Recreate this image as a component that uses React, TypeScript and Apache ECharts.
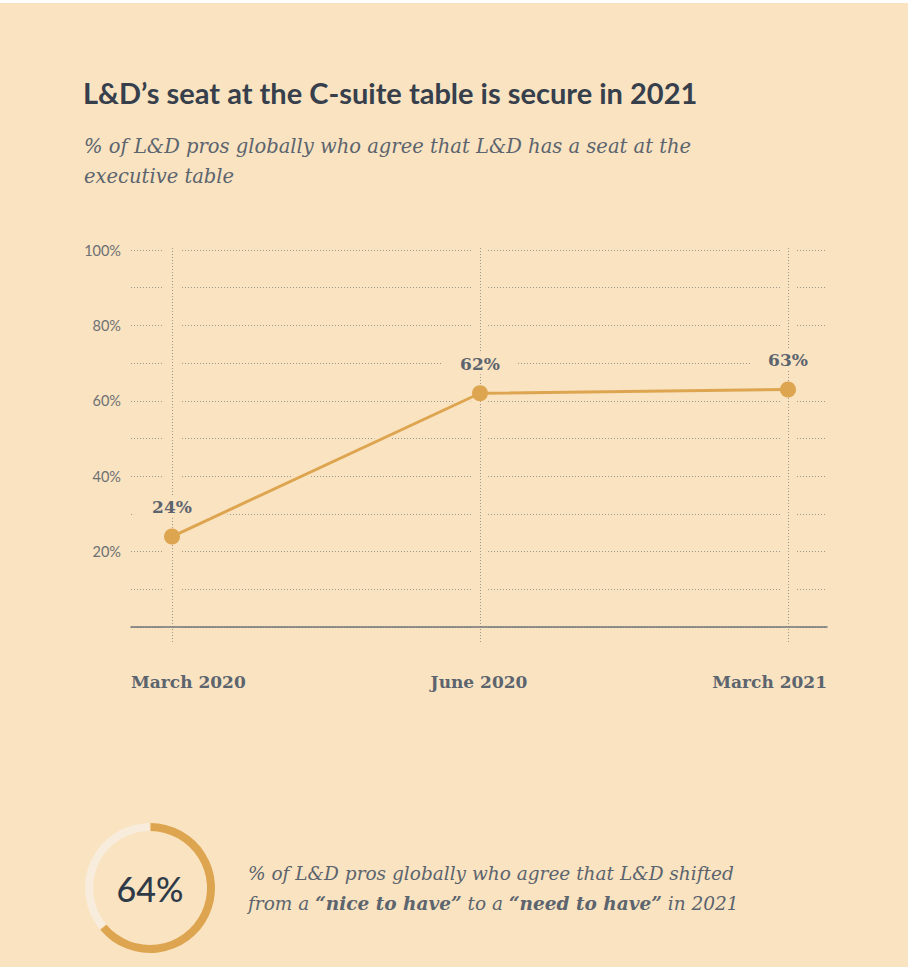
import React, { useEffect, useRef } from "react";
import * as echarts from "echarts";

const categories = ["March 2020", "June 2020", "March 2021"];
const seatValues = [24, 62, 63];
const yTicks = [0, 10, 20, 30, 40, 50, 60, 70, 80, 90, 100];
const shiftedShare = [64, 36];

const BG = "#f9e3c1";
const GOLD = "#dea550";
const LIGHT = "#f8eddd";
const DARK = "#363f4b";
const GREY = "#5c646e";
const DOT = "#9b9890";

export default function App() {
  const ref = useRef<HTMLDivElement>(null);
  useEffect(() => {
    document.body.style.margin = "0";
    const chart = echarts.init(ref.current!, undefined, { renderer: "svg" });
    const serif = "DejaVu Serif";
    chart.setOption({
      animation: false,
      backgroundColor: BG,
      graphic: [
        { type: "rect", shape: { x: 0, y: 0, width: 908, height: 3 }, style: { fill: "#ffffff" }, silent: true },
        {
          type: "text", x: 83, y: 78,
          style: { text: "L&D’s seat at the C-suite table is secure in 2021", fill: DARK, font: "700 29px Lato" },
        },
        {
          type: "text", x: 84, y: 131,
          style: {
            text: "% of L&D pros globally who agree that L&D has a seat at the\nexecutive table",
            fill: GREY, font: "italic 19.5px 'DejaVu Serif'", lineHeight: 30,
          },
        },
        {
          type: "text", x: 150, y: 888,
          style: { text: "64%", fill: "#2f3a48", font: "500 34px Lato", align: "center", verticalAlign: "middle" },
        },
        {
          type: "text", x: 248, y: 858,
          style: {
            text: "% of L&D pros globally who agree that L&D shifted\nfrom a {b|“nice to have”} to a {b|“need to have”} in 2021",
            fill: GREY, font: "italic 18.5px 'DejaVu Serif'", lineHeight: 30,
            rich: { b: { fontFamily: serif, fontStyle: "italic", fontWeight: "bold", fontSize: 18.5, fill: GREY, lineHeight: 30 } },
          },
        },
      ],
      grid: [
        { left: 131, right: 81, top: 250, bottom: 340 },
        { left: 172, right: 120, top: 250, bottom: 340 },
        { left: 172, right: 120, top: 248, bottom: 324 },
      ],
      xAxis: [
        {
          gridIndex: 0, type: "category", data: categories, boundaryGap: false, z: 5,
          axisLine: { lineStyle: { color: "#70757a", width: 1.5 } },
          axisTick: { show: false },
          splitLine: { show: false },
          axisLabel: {
            margin: 46, color: GREY, fontFamily: serif, fontWeight: "bold", fontSize: 17,
            alignMinLabel: "left", alignMaxLabel: "right",
          },
        },
        {
          gridIndex: 1, type: "category", data: categories, boundaryGap: false, show: false,
        },
        {
          gridIndex: 2, type: "category", data: categories, boundaryGap: false, z: 1.5,
          axisLine: { show: false }, axisTick: { show: false }, axisLabel: { show: false },
          splitLine: { show: true, lineStyle: { color: DOT, width: 1, type: [1, 2] } },
        },
        {
          gridIndex: 2, type: "category", data: categories, boundaryGap: false, z: 1,
          axisLine: { show: false }, axisTick: { show: false }, axisLabel: { show: false },
          splitLine: { show: true, lineStyle: { color: BG, width: 16, type: "solid" } },
        },
      ],
      yAxis: [
        {
          gridIndex: 0, type: "value", min: yTicks[0], max: yTicks[yTicks.length - 1], interval: 10, z: 0,
          axisLine: { show: false }, axisTick: { show: false },
          splitLine: { lineStyle: { color: DOT, width: 1, type: [1, 2] } },
          axisLabel: {
            margin: 10, color: "#6d7073", fontFamily: "Lato", fontSize: 14.5,
            formatter: (v: number) => (v > 0 && v % 20 === 0 ? v + "%" : ""),
          },
        },
        { gridIndex: 1, type: "value", min: 0, max: 100, show: false },
        { gridIndex: 2, type: "value", min: 0, max: 100, show: false },
      ],
      series: [
        {
          type: "line", xAxisIndex: 1, yAxisIndex: 1, data: seatValues, z: 2, silent: true,
          symbol: "none", lineStyle: { color: BG, width: 7 },
        },
        {
          type: "line", xAxisIndex: 1, yAxisIndex: 1, data: seatValues, z: 3,
          symbol: "circle", symbolSize: 16,
          itemStyle: { color: GOLD },
          lineStyle: { color: GOLD, width: 3 },
          label: {
            show: true, position: "top", distance: 11, formatter: "{c}%",
            color: GREY, fontFamily: serif, fontWeight: "bold", fontSize: 17,
            backgroundColor: BG, padding: [2, 18],
          },
        },
        {
          type: "pie", center: [150, 888], radius: [57, 65], startAngle: 90, clockwise: true,
          padAngle: 1, silent: true, label: { show: false }, labelLine: { show: false },
          data: [
            { value: shiftedShare[0], itemStyle: { color: GOLD } },
            { value: shiftedShare[1], itemStyle: { color: LIGHT } },
          ],
        },
      ],
    });
    return () => chart.dispose();
  }, []);
  return <div ref={ref} style={{ width: 908, height: 967 }} />;
}
